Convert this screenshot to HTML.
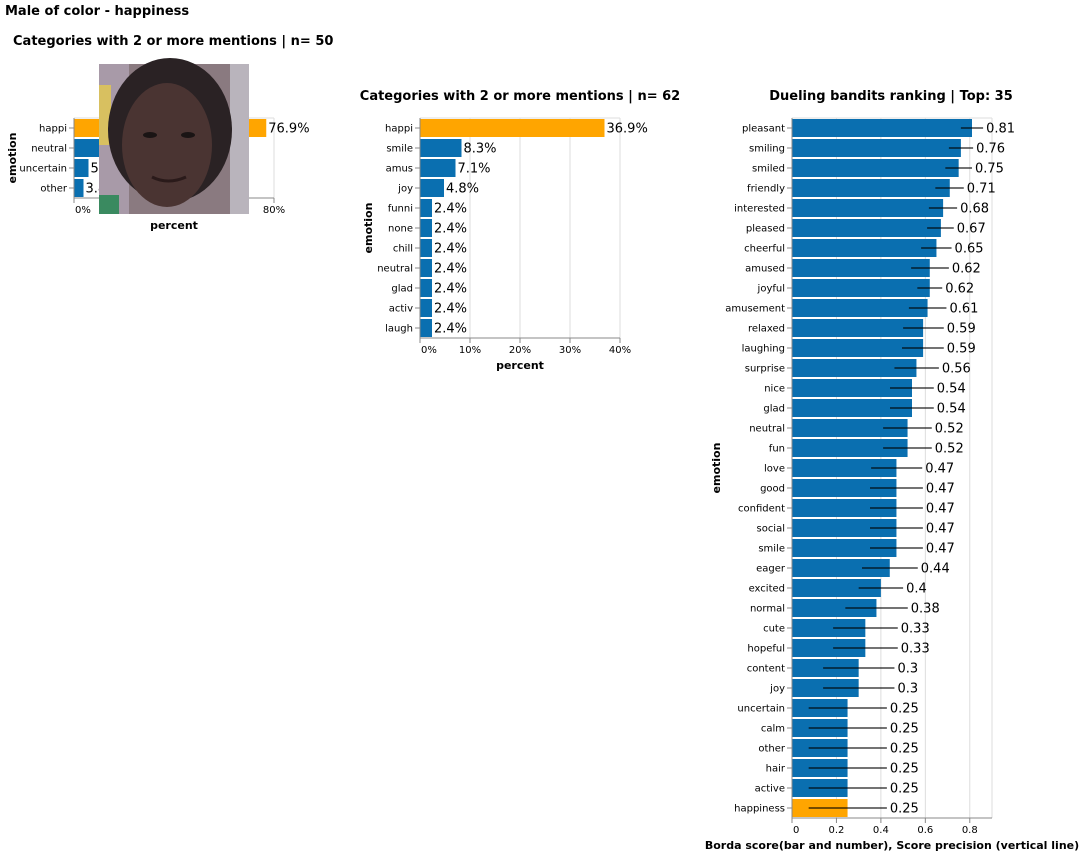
<!DOCTYPE html>
<html><head><meta charset="utf-8">
<style>
html,body{margin:0;padding:0;background:#fff;}
svg{display:block;font-family:"DejaVu Sans","Liberation Sans",sans-serif;}
</style></head>
<body>
<svg id="root" width="1084" height="857" xmlns="http://www.w3.org/2000/svg">
<text x="5" y="15" font-size="13" font-weight="bold">Male of color - happiness</text>
<g id="c1"></g>
<g id="c2"></g>
<g id="c3"></g>
</svg>
<script>
// Chart 1 data
const c1Cats = ["happi","neutral","uncertain","other"];
const c1Vals = [76.9,11.5,5.8,3.8];
const c1Ticks = [0,20,40,60,80];
// Chart 2 data
const c2Cats = ["happi","smile","amus","joy","funni","none","chill","neutral","glad","activ","laugh"];
const c2Vals = [36.9,8.3,7.1,4.8,2.4,2.4,2.4,2.4,2.4,2.4,2.4];
const c2Ticks = [0,10,20,30,40];
// Chart 3 data
const c3Cats = ["pleasant","smiling","smiled","friendly","interested","pleased","cheerful","amused","joyful","amusement","relaxed","laughing","surprise","nice","glad","neutral","fun","love","good","confident","social","smile","eager","excited","normal","cute","hopeful","content","joy","uncertain","calm","other","hair","active","happiness"];
const c3Vals = [0.81,0.76,0.75,0.71,0.68,0.67,0.65,0.62,0.62,0.61,0.59,0.59,0.56,0.54,0.54,0.52,0.52,0.47,0.47,0.47,0.47,0.47,0.44,0.4,0.38,0.33,0.33,0.3,0.3,0.25,0.25,0.25,0.25,0.25,0.25];
const c3Lo = [0.76,0.706,0.69,0.645,0.616,0.608,0.581,0.536,0.564,0.526,0.5,0.495,0.461,0.441,0.441,0.41,0.41,0.356,0.351,0.351,0.351,0.351,0.315,0.30,0.24,0.185,0.185,0.14,0.14,0.075,0.075,0.075,0.075,0.075,0.075];
const c3Hi = [0.86,0.815,0.81,0.773,0.743,0.728,0.718,0.706,0.676,0.695,0.683,0.683,0.661,0.638,0.638,0.629,0.629,0.586,0.589,0.589,0.589,0.589,0.566,0.5,0.521,0.476,0.476,0.461,0.461,0.427,0.427,0.427,0.427,0.427,0.427];
const c3Ticks = [0,0.2,0.4,0.6,0.8];

const NS="http://www.w3.org/2000/svg";
function mk(parent,tag,attrs,text){const e=document.createElementNS(NS,tag);for(const k in attrs)e.setAttribute(k,attrs[k]);if(text!==undefined)e.textContent=text;parent.appendChild(e);return e;}

function chart(g,o){
  const x=v=>o.x0+v/o.max*o.w;
  const H=o.cats.length*20;
  const y=i=>o.y0+i*20;
  o.ticks.forEach(t=>{
    const l=mk(g,"line",{x1:x(t),x2:x(t),y1:o.y0,y2:o.y0+H,stroke:"#ddd"});
    
    
  });
  mk(g,"line",{x1:o.x0+o.w,x2:o.x0+o.w,y1:o.y0,y2:o.y0+H,stroke:"#ddd"});
  mk(g,"line",{x1:o.x0,x2:o.x0+o.w,y1:o.y0,y2:o.y0,stroke:"#ddd"});
  o.cats.forEach((c,i)=>{
    const col=(c==="happi"||c==="happiness")?"#ffa500":"#0a6fb0";
    const r=mk(g,"rect",{x:o.x0,y:y(i)+1,width:Math.max(0,x(o.vals[i])-o.x0),height:18,fill:col});
    
    
    let lx=x(o.vals[i])+2;
    if(o.lo){
      const e=mk(g,"line",{x1:x(o.lo[i]),x2:x(o.hi[i]),y1:y(i)+10,y2:y(i)+10,stroke:"#000","stroke-opacity":"0.55","stroke-width":"2"});
      
      
      lx=x(o.hi[i])+3;
    }
    const t=mk(g,"text",{x:lx,y:y(i)+14.5,"font-size":"13",fill:"#000"},o.fmt(o.vals[i]));
    
    
    mk(g,"line",{x1:o.x0-5,x2:o.x0,y1:y(i)+10,y2:y(i)+10,stroke:"#888"});
    const yl=mk(g,"text",{x:o.x0-7,y:y(i)+13.5,"font-size":"10","text-anchor":"end",fill:"#000"},c);
    
    
  });
  mk(g,"line",{x1:o.x0,x2:o.x0,y1:o.y0,y2:o.y0+H,stroke:"#888"});
  mk(g,"line",{x1:o.x0,x2:o.x0+o.w,y1:o.y0+H,y2:o.y0+H,stroke:"#888"});
  o.ticks.forEach((t,k)=>{
    mk(g,"line",{x1:x(t),x2:x(t),y1:o.y0+H,y2:o.y0+H+5,stroke:"#888"});
    const anchor=k===0?"start":"middle";
    const tl=mk(g,"text",{x:x(t)+(k===0?1:0),y:o.y0+H+15,"font-size":"10","text-anchor":anchor,fill:"#000"},o.tfmt(t));
    
    
  });
  const xt=mk(g,"text",{x:o.x0+o.w/2,y:o.y0+H+31,"font-size":"11","font-weight":"bold","text-anchor":"middle"},o.xtitle);
  
  
  const ytx=o.ytx, yty=o.y0+H/2;
  const yt=mk(g,"text",{x:ytx,y:yty,"font-size":"11","font-weight":"bold","text-anchor":"middle",transform:`rotate(-90 ${ytx} ${yty})`},"emotion");
  
  
  const tt=mk(g,"text",{x:o.tx,y:o.ty,"font-size":"13","font-weight":"bold","text-anchor":o.tanchor||"middle"},o.title);
  
  
}
const pct=v=>v.toFixed(1)+"%";
chart(document.getElementById("c1"),{cats:c1Cats,vals:c1Vals,ticks:c1Ticks,max:80,x0:74,w:200,y0:118,
  fmt:pct,tfmt:t=>t+"%",xtitle:"percent",ytx:16,title:"Categories with 2 or more mentions | n= 50",tx:13,ty:45,tanchor:"start"});
chart(document.getElementById("c2"),{cats:c2Cats,vals:c2Vals,ticks:c2Ticks,max:40,x0:420,w:200,y0:118,
  fmt:pct,tfmt:t=>t+"%",xtitle:"percent",ytx:372,title:"Categories with 2 or more mentions | n= 62",tx:520,ty:100});
chart(document.getElementById("c3"),{cats:c3Cats,vals:c3Vals,lo:c3Lo,hi:c3Hi,ticks:c3Ticks,max:0.9,x0:792,w:200,y0:118,
  fmt:v=>String(v),tfmt:t=>String(t),xtitle:"Borda score(bar and number), Score precision (vertical line)",ytx:720,title:"Dueling bandits ranking | Top: 35",tx:891,ty:100});
const root=document.getElementById("root");
const img=mk(root,"g",{});


mk(img,"rect",{x:99,y:64,width:150,height:150,fill:"#8a7a80"});
mk(img,"rect",{x:99,y:64,width:30,height:150,fill:"#a89aa8"});
mk(img,"rect",{x:99,y:85,width:12,height:60,fill:"#d8c060"});
mk(img,"rect",{x:230,y:64,width:19,height:150,fill:"#b9b4bc"});
mk(img,"rect",{x:99,y:195,width:20,height:19,fill:"#3a8a60"});
mk(img,"ellipse",{cx:170,cy:130,rx:62,ry:72,fill:"#2a2224"});
mk(img,"ellipse",{cx:167,cy:145,rx:45,ry:62,fill:"#4a3432"});
mk(img,"ellipse",{cx:150,cy:135,rx:7,ry:3,fill:"#1a1414"});
mk(img,"ellipse",{cx:188,cy:135,rx:7,ry:3,fill:"#1a1414"});
mk(img,"path",{d:"M152 177 Q168 185 186 177",stroke:"#2a1a1a","stroke-width":"3",fill:"none"});
</script>
</body></html>
